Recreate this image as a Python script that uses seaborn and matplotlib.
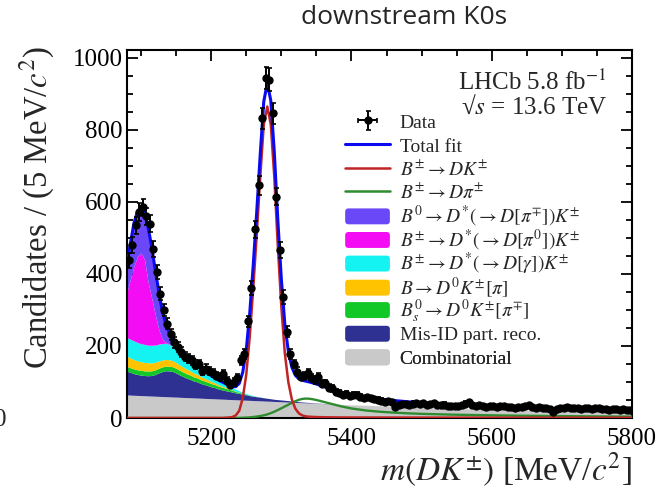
import numpy as np
import matplotlib
matplotlib.use("Agg")
import matplotlib.pyplot as plt
import seaborn as sns
from matplotlib.patches import Patch, FancyBboxPatch
from matplotlib.lines import Line2D
from matplotlib.legend_handler import HandlerBase
from matplotlib.ticker import MultipleLocator

# ---------------- data ----------------
# bin centres of the 5 MeV data bins, 5080 - 5800
data_x = np.arange(5082.5, 5800.0, 5.0)
data_counts = [
    438, 480, 535, 572, 585, 560, 540, 470, 405, 345,
    300, 262, 232, 210, 196, 183, 170, 166, 160, 148,
    150, 131, 137, 130, 124, 118, 113, 122, 104, 93,
    100, 112, 160, 178, 268, 362, 524, 646, 832, 945,
    940, 846, 615, 467, 336, 240, 178, 150, 129, 115,
    118, 124, 112, 106, 115, 95, 96, 84, 82, 72,
    70, 64, 66, 60,
    63, 64, 58, 55, 57, 55, 52, 50, 48, 45,
    46, 44, 31, 35, 39, 38, 37, 40, 41, 38,
    41, 36, 39, 41, 36, 35, 37, 34, 33, 34,
    32, 36, 40, 44, 35, 34, 36, 32, 31, 34,
    33, 30, 32, 33, 31, 30, 29, 31, 30, 33,
    36, 31, 29, 30, 28, 29, 24, 18, 24, 29,
    28, 30, 29, 27, 28, 26, 29, 27, 25, 28,
    27, 24, 26, 23, 26, 24, 22, 25, 21, 23,
]

# fit-curve sampling: 5 MeV steps 5080-5400, 20 MeV steps 5420-5800
fit_x = list(range(5080, 5401, 5)) + list(range(5420, 5801, 20))
N_FIT = len(fit_x)

def full(vals):
    return np.array(vals + [0.0] * (N_FIT - len(vals)), dtype=float)

comb = [
    64.0, 63.6, 63.1, 62.7, 62.3, 61.9, 61.4, 61.0, 60.6, 60.1,
    59.7, 59.3, 58.8, 58.4, 58.0, 57.6, 57.1, 56.7, 56.3, 55.8,
    55.4, 55.0, 54.5, 54.1, 53.7, 53.3, 52.8, 52.4, 52.0, 51.5,
    51.1, 50.7, 50.2, 49.8, 49.4, 49.0, 48.5, 48.1, 47.7, 47.2,
    46.8, 46.4, 45.9, 45.5, 45.1, 44.7, 44.2, 43.8, 43.4, 42.9,
    42.5, 42.1, 41.6, 41.2, 40.8, 40.4, 39.9, 39.5, 39.1, 38.6,
    38.2, 37.8, 37.3, 36.9, 36.5,
    35.5, 34.0, 32.5, 31.0, 29.5, 28.3, 27.1, 26.0, 25.0, 24.0,
    23.1, 22.3, 21.5, 20.8, 20.1, 19.5, 18.9, 18.3, 17.8, 17.3,
]
misid = [
    66, 63, 60, 58, 57, 56, 56, 57, 60, 65,
    69, 72, 72, 71, 67, 62, 58, 54, 51, 47,
    45, 41, 38.5, 36, 33, 31, 28, 26, 24, 22.5,
    21, 19, 18, 16, 15, 13, 12, 11, 10, 9,
    8, 7, 6, 5.5, 5, 4.5, 4, 3.3, 2.8, 2.3,
    2.0, 1.7, 1.4, 1.1, 0.9, 0.7, 0.5, 0.4, 0.3, 0.2, 0.1,
]
bs_dkpi = [
    13, 13, 13, 13, 13, 13, 13, 13, 13, 13,
    13, 13, 13, 13, 13, 13, 12.5, 12.2, 12, 11.5,
    11, 10.5, 10, 9.5, 9, 8.5, 8, 7.5, 7, 6,
    5, 4, 3, 2.2, 1.5, 1, 0.6, 0.3, 0.1,
]
b_dkpi = [
    28, 27, 26, 25, 24, 23.5, 23, 22, 21, 20,
    19, 18.5, 18, 17, 16, 15, 14, 13, 12, 11,
    10, 9, 8, 7, 6, 5, 4, 3.2, 2.5, 1.8,
    1.2, 0.8, 0.5, 0.3, 0.1,
]
dst_gamma = [
    52, 52, 52, 51, 50, 50, 49, 49, 48, 47,
    46, 45, 43, 40, 37, 34, 31, 29, 27, 25,
    23, 21, 19, 17, 15.5, 14, 13, 11.5, 10, 8.5,
    7, 5.5, 4, 3, 2, 1.5, 1, 0.6, 0.4, 0.2,
]
dst_pi0 = [
    127, 168, 208, 239, 252, 236, 176, 133, 87, 43,
    13, 3, 1, 0.3,
]
dst_pipm = [
    80, 100, 120, 125, 127, 130, 152, 143, 125, 107,
    80, 52, 32, 18, 12, 8.4, 5.4, 3, 2, 1.5,
    1, 0.7, 0.5, 0.3, 0.2, 0.1,
]
sig_dk = [0.0] * 28 + [
    0.5, 1.2, 2.5, 7, 20, 55, 120, 225, 360, 510,
    670, 815, 865, 815, 670, 478, 310, 180, 100, 52,
    26, 13, 7, 4.5, 3.5, 3, 2.6, 2.3, 2.1, 1.9,
    1.8, 1.7, 1.6, 1.5, 1.45, 1.4, 1.35,
    1.3, 1.25, 1.2, 1.15, 1.1, 1.05, 1.0, 0.97, 0.94, 0.91,
    0.88, 0.85, 0.82, 0.8, 0.78, 0.76, 0.74, 0.72, 0.7, 0.68,
]
sig_dpi = [0.0] * 32 + [
    0.3, 0.6, 1.1, 1.8, 2.8, 4, 5.5, 7.5, 10, 13.5,
    17.5, 22, 27, 32, 37, 42, 46.5, 50.5, 53, 54,
    53.5, 52, 50, 47.5, 45, 42.5, 40, 37.5, 35, 32.5,
    30.5, 28.5, 26.5,
    21, 17.5, 15, 13, 11.5, 10.5, 9.5, 8.7, 8, 7.4,
    6.9, 6.4, 6, 5.6, 5.2, 4.9, 4.6, 4.3, 4.0, 3.8,
]

legend_labels = [
    "Data", "Total fit",
    r"$B^{\pm} \to DK^{\pm}$",
    r"$B^{\pm} \to D\pi^{\pm}$",
    r"$B^{0} \to D^{*}(\to D[\pi^{\mp}])K^{\pm}$",
    r"$B^{\pm} \to D^{*}(\to D[\pi^{0}])K^{\pm}$",
    r"$B^{\pm} \to D^{*}(\to D[\gamma])K^{\pm}$",
    r"$B \to D^{0}K^{\pm}[\pi]$",
    r"$B^{0}_{s} \to D^{0}K^{\pm}[\pi^{\mp}]$",
    "Mis-ID part. reco.",
    "Combinatorial",
]

# ---------------- style ----------------
sns.set_theme(style="ticks")
plt.rcParams["font.family"] = ["Liberation Serif", "DejaVu Serif"]
plt.rcParams["mathtext.fontset"] = "stix"

C_PURPLE = "#6A48F8"
C_MAGENTA = "#F40CF4"
C_CYAN = "#14F2F2"
C_ORANGE = "#FFC300"
C_GREENF = "#12C828"
C_NAVY = "#2E3192"
C_GREY = "#C9C9C9"
C_BLUE = "#0A0AF0"
C_RED = "#C02424"
C_GREENL = "#2E8B2E"


class RoundedPatchHandler(HandlerBase):
    def create_artists(self, legend, orig_handle, xdescent, ydescent,
                       width, height, fontsize, trans):
        h = height * 0.95
        y0 = -ydescent + (height - h) / 2
        p = FancyBboxPatch((-xdescent, y0), width, h,
                           boxstyle="round,pad=0,rounding_size=2.5",
                           facecolor=orig_handle.get_facecolor(),
                           edgecolor="none", transform=trans)
        return [p]


fig = plt.figure(figsize=(6.59, 4.90), dpi=100)
ax = fig.add_axes([127 / 659, 1 - 418 / 490, 505 / 659, 368 / 490])

x = np.array(fit_x, dtype=float)
stack = [
    (full(comb), C_GREY),
    (full(misid), C_NAVY),
    (full(bs_dkpi), C_GREENF),
    (full(b_dkpi), C_ORANGE),
    (full(dst_gamma), C_CYAN),
    (full(dst_pi0), C_MAGENTA),
    (full(dst_pipm), C_PURPLE),
]
lower = np.zeros(N_FIT)
for vals, col in stack:
    upper = lower + vals
    ax.fill_between(x, lower, upper, color=col, lw=0, zorder=2)
    lower = upper

dk = np.array(sig_dk, dtype=float)
dpi = np.array(sig_dpi, dtype=float)
total = lower + dk + dpi

sns.lineplot(x=x, y=dpi, ax=ax, color=C_GREENL, lw=1.7, zorder=3, legend=False)
sns.lineplot(x=x, y=dk, ax=ax, color=C_RED, lw=1.8, zorder=4, legend=False)
sns.lineplot(x=x, y=total, ax=ax, color=C_BLUE, lw=2.2, zorder=5, legend=False)

counts = np.array(data_counts, dtype=float)
eb = ax.errorbar(data_x, counts, yerr=np.sqrt(counts), xerr=2.5,
                 fmt="o", color="black", ms=5.0, elinewidth=1.4,
                 capsize=1.8, capthick=1.2, zorder=6)

ax.set_xlim(5080, 5800)
ax.set_ylim(0, 1022)
ax.xaxis.set_major_locator(MultipleLocator(200))
ax.xaxis.set_minor_locator(MultipleLocator(50))
ax.yaxis.set_major_locator(MultipleLocator(200))
ax.yaxis.set_minor_locator(MultipleLocator(50))
ax.tick_params(which="both", direction="in", top=True, right=True,
               colors="black", width=1.3)
ax.tick_params(which="major", length=8, labelsize=18)
ax.tick_params(axis="x", which="major", pad=7)
ax.tick_params(axis="y", which="major", pad=3)
ax.tick_params(which="minor", length=4.5)
for sp in ax.spines.values():
    sp.set_linewidth(1.5)
    sp.set_color("black")

ax.text(-0.178, 0.571, r"Candidates / (5 MeV/$c^{2}$)", transform=ax.transAxes,
        rotation=90, ha="center", va="center", fontsize=23.5)
ax.text(1.0, -0.141, r"$m(DK^{\pm})$ [MeV/$c^{2}$]", transform=ax.transAxes,
        ha="right", va="center", fontsize=24)

ax.text(0.950, 0.913, r"LHCb 5.8 fb$^{-1}$", transform=ax.transAxes,
        ha="right", va="center", fontsize=18)
ax.text(0.950, 0.845, "\u221a$s$ = 13.6 TeV", transform=ax.transAxes,
        ha="right", va="center", fontsize=18)

handles = [
    eb,
    Line2D([], [], color=C_BLUE, lw=2.2),
    Line2D([], [], color=C_RED, lw=1.8),
    Line2D([], [], color=C_GREENL, lw=1.8),
    Patch(facecolor=C_PURPLE, edgecolor="none"),
    Patch(facecolor=C_MAGENTA, edgecolor="none"),
    Patch(facecolor=C_CYAN, edgecolor="none"),
    Patch(facecolor=C_ORANGE, edgecolor="none"),
    Patch(facecolor=C_GREENF, edgecolor="none"),
    Patch(facecolor=C_NAVY, edgecolor="none"),
    Patch(facecolor=C_GREY, edgecolor="none"),
]
# one legend row per entry so that the rows are evenly spaced (23.6 px pitch)
row0_px, pitch_px = 122.5, 23.6
for i, (h, lab) in enumerate(zip(handles, legend_labels)):
    y_px = row0_px + i * pitch_px
    leg = ax.legend([h], [lab], loc="center left",
                    bbox_to_anchor=(0.432, (418 - y_px) / 368),
                    frameon=False, fontsize=14, borderpad=0,
                    borderaxespad=0, handlelength=2.3, handleheight=0.95,
                    handletextpad=0.5,
                    handler_map={Patch: RoundedPatchHandler()})
    ax.add_artist(leg)

fig.text(404 / 659, 1 - 18 / 490, "downstream K0s", ha="center", va="center",
         fontsize=19, family=["Open Sans", "DejaVu Sans"])
fig.text(-6 / 659, 1 - 420 / 490, "0", ha="left", va="center", fontsize=18)

fig.savefig("out.png", dpi=100)
